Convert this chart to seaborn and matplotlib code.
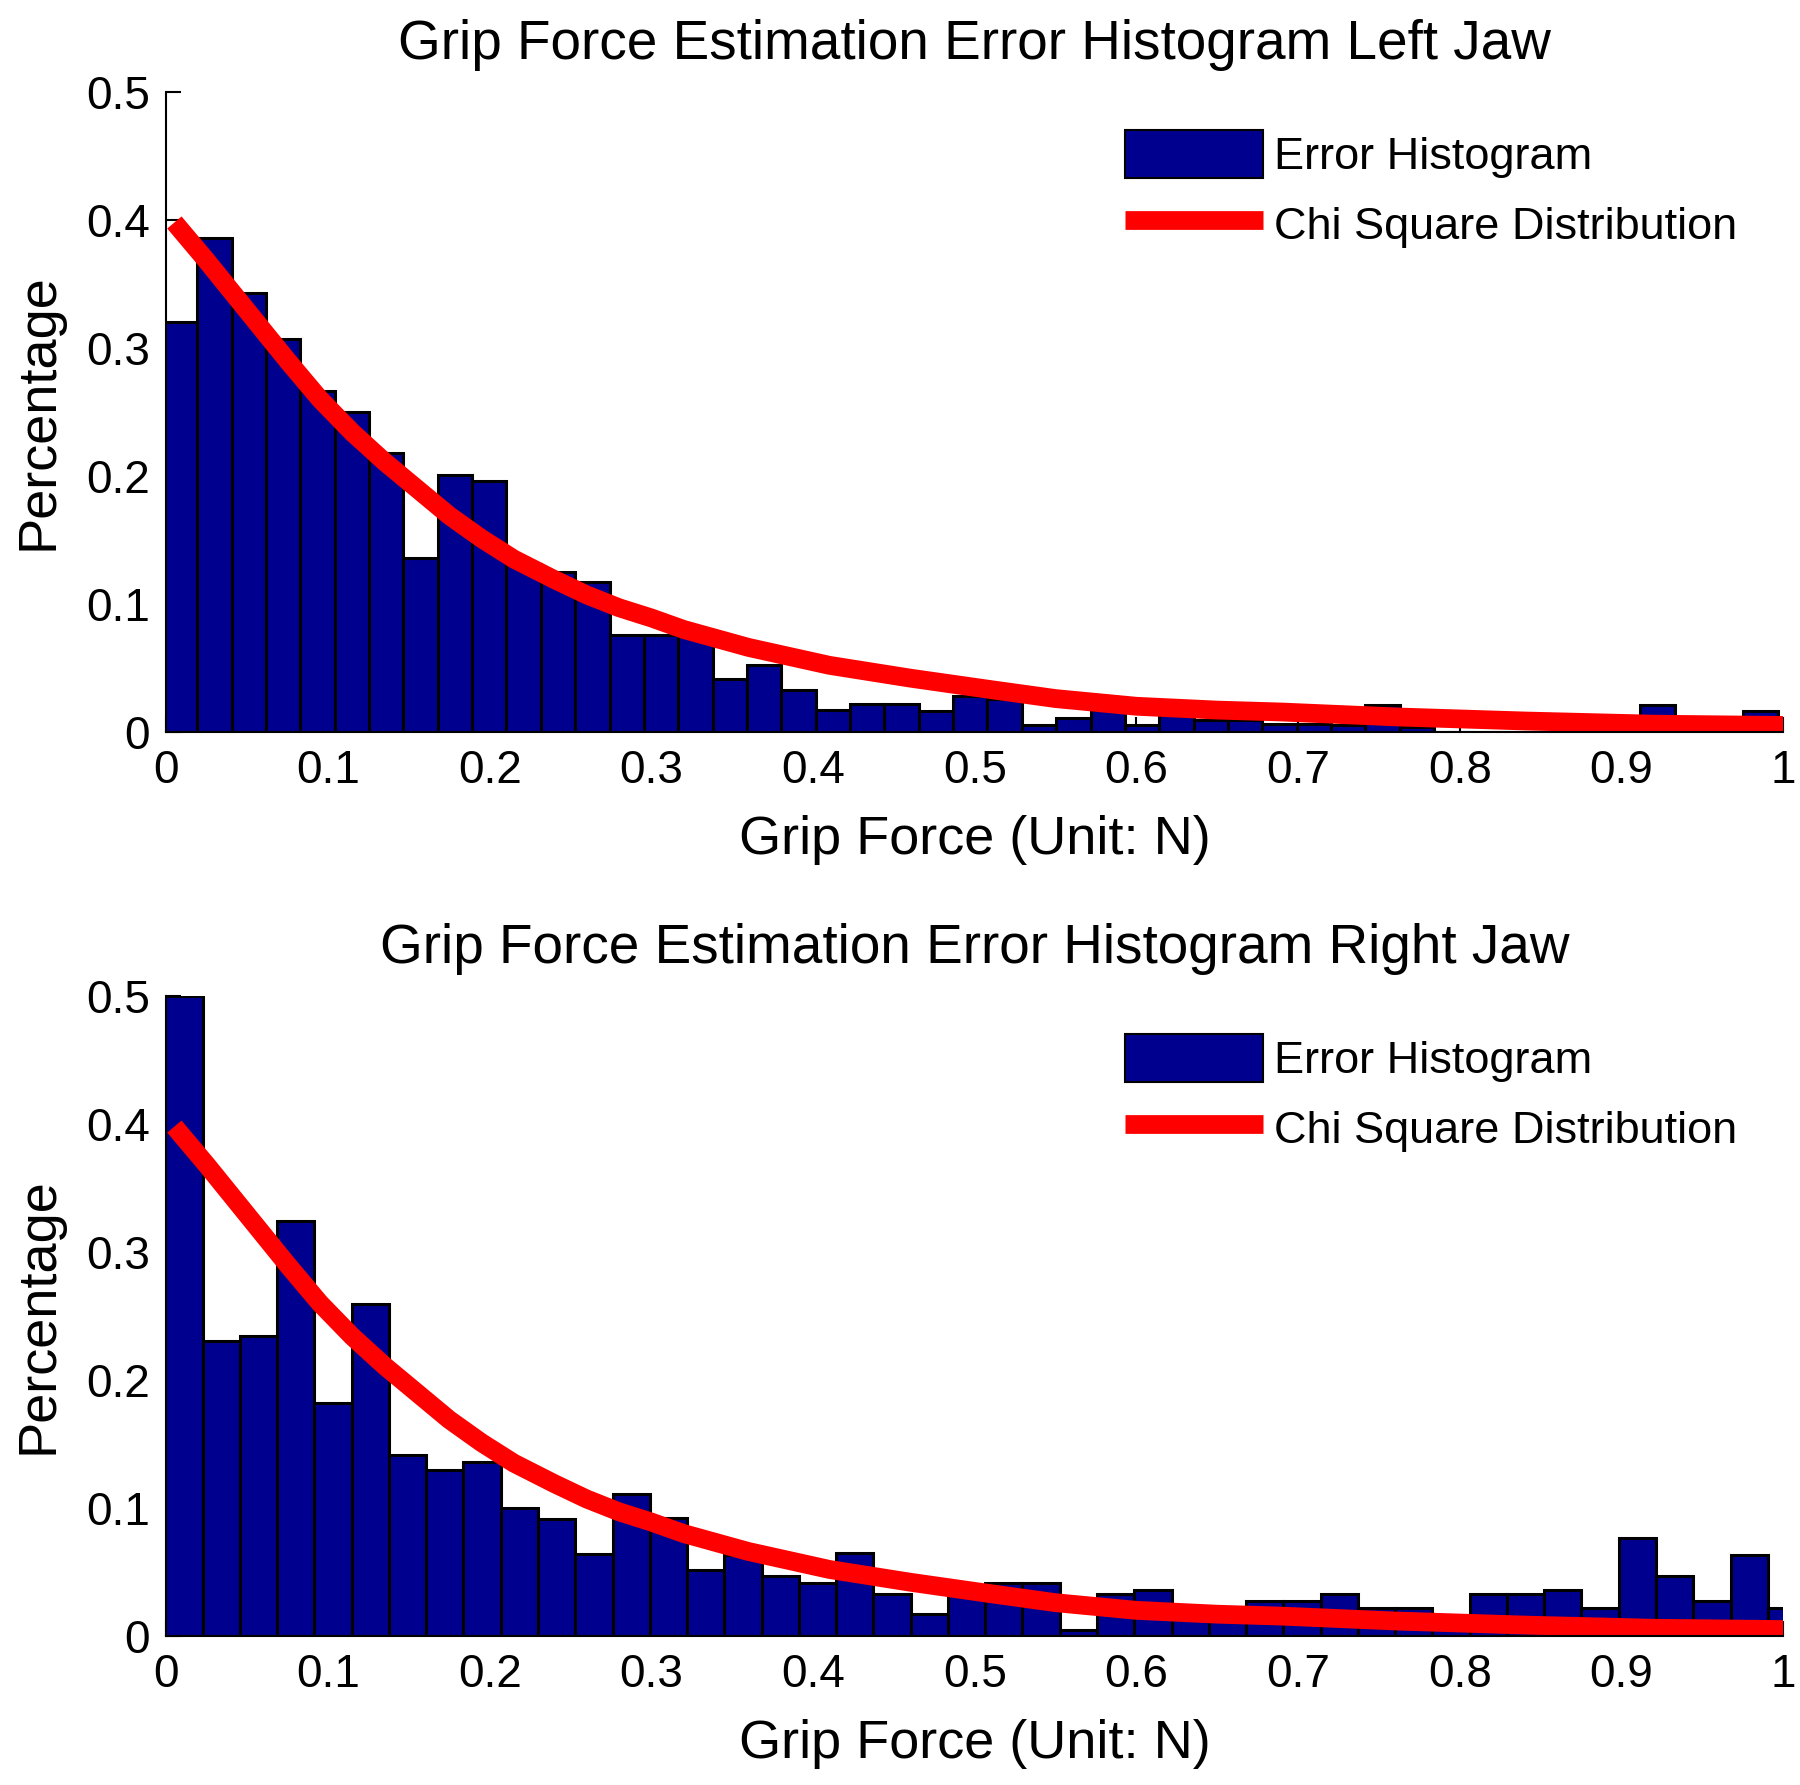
# Grip force estimation error histograms (left / right jaw)
import numpy as np
import pandas as pd
import matplotlib
matplotlib.use('Agg')
import matplotlib.pyplot as plt
from matplotlib.patches import Patch
from matplotlib.lines import Line2D
import seaborn as sns

NAVY = '#00008F'
RED = '#FF0000'

# ── Datos ────────────────────────────────────────────────────────────────────
# bins: start of the first bin and bin width (in N)
left_start, left_width = -0.0021, 0.02125
right_start, right_width = -0.0006, 0.02305

left_heights = [0.320, 0.386, 0.343, 0.307, 0.266, 0.250, 0.218, 0.136, 0.201, 0.196,
                0.131, 0.125, 0.117, 0.076, 0.076, 0.077, 0.041, 0.052, 0.033, 0.017,
                0.022, 0.022, 0.016, 0.028, 0.026, 0.005, 0.011, 0.017, 0.005, 0.013,
                0.009, 0.009, 0.006, 0.0065, 0.005, 0.021, 0.004, 0.0, 0.0, 0.0,
                0.0, 0.002, 0.002, 0.021, 0.002, 0.002, 0.016, 0.010]

right_heights = [0.500, 0.2305, 0.234, 0.324, 0.182, 0.259, 0.141, 0.130, 0.136, 0.100,
                 0.0915, 0.064, 0.111, 0.092, 0.0515, 0.063, 0.047, 0.041, 0.065, 0.033,
                 0.017, 0.034, 0.041, 0.041, 0.005, 0.0325, 0.0356, 0.022, 0.016, 0.027,
                 0.027, 0.033, 0.022, 0.022, 0.008, 0.033, 0.033, 0.0357, 0.022, 0.0768,
                 0.0468, 0.027, 0.063, 0.022]

chi_x = [0.005, 0.025, 0.05, 0.075, 0.095, 0.115, 0.135, 0.155, 0.175, 0.195,
         0.215, 0.24, 0.26, 0.28, 0.30, 0.32, 0.36, 0.41, 0.46, 0.51,
         0.55, 0.60, 0.65, 0.69, 0.76, 0.84, 0.92, 1.0]
chi_y = [0.398, 0.368, 0.329, 0.290, 0.260, 0.234, 0.211, 0.190, 0.169, 0.151,
         0.135, 0.119, 0.107, 0.097, 0.089, 0.080, 0.066, 0.052, 0.042, 0.033,
         0.026, 0.020, 0.017, 0.0155, 0.0117, 0.0085, 0.006, 0.005]

x_ticks = [0, 0.1, 0.2, 0.3, 0.4, 0.5, 0.6, 0.7, 0.8, 0.9, 1]
x_tick_labels = ['0', '0.1', '0.2', '0.3', '0.4', '0.5', '0.6', '0.7', '0.8', '0.9', '1']
y_ticks = [0, 0.1, 0.2, 0.3, 0.4, 0.5]
y_tick_labels = ['0', '0.1', '0.2', '0.3', '0.4', '0.5']

titles = ['Grip Force Estimation Error Histogram Left Jaw',
          'Grip Force Estimation Error Histogram Right Jaw']
xlabel = 'Grip Force (Unit: N)'
ylabel = 'Percentage'
legend_labels = ['Error Histogram', 'Chi Square Distribution']

# ── Estilo ───────────────────────────────────────────────────────────────────
sns.set_theme(style='white')
plt.rcParams.update({
    'font.family': ['Liberation Sans', 'DejaVu Sans'],
    'axes.spines.top': False,
    'axes.spines.right': False,
    'axes.edgecolor': 'black',
    'axes.linewidth': 1.5,
    'xtick.direction': 'in',
    'ytick.direction': 'in',
    'xtick.bottom': True,
    'ytick.left': True,
    'xtick.major.size': 11,
    'ytick.major.size': 11,
    'xtick.major.width': 1.5,
    'ytick.major.width': 1.5,
    'xtick.color': 'black',
    'ytick.color': 'black',
    'text.color': 'black',
    'axes.labelcolor': 'black',
})

LINE_W = 13.5
TITLE_FS = 39.5
LABEL_FS = 39
TICK_FS = 33
LEG_FS = 32.5


def draw(ax, heights, start, width, title):
    n = len(heights)
    df = pd.DataFrame({'x': start + width * (np.arange(n) + 0.5), 'w': heights})
    sns.histplot(data=df, x='x', weights='w', binwidth=width,
                 binrange=(start, start + width * n), color=NAVY,
                 edgecolor='black', linewidth=2.2, alpha=1, ax=ax)
    sns.lineplot(x=chi_x, y=chi_y, color=RED, linewidth=LINE_W, ax=ax,
                 solid_capstyle='butt')
    ax.set_xlim(0, 1)
    ax.set_ylim(0, 0.5)
    ax.set_xticks(x_ticks)
    ax.set_xticklabels(x_tick_labels, fontsize=TICK_FS)
    ax.set_yticks(y_ticks)
    ax.set_yticklabels(y_tick_labels, fontsize=TICK_FS)
    ax.tick_params(axis='x', pad=12)
    ax.tick_params(axis='y', pad=12)
    ax.set_title(title, fontsize=TITLE_FS, pad=24)
    ax.set_xlabel(xlabel, fontsize=LABEL_FS, labelpad=16)
    ax.set_ylabel(ylabel, fontsize=LABEL_FS, labelpad=16)
    handles = [Patch(facecolor=NAVY, edgecolor='black', linewidth=1.5),
               Line2D([], [], color=RED, linewidth=LINE_W, solid_capstyle='butt')]
    ax.legend(handles, legend_labels, loc='upper left', bbox_to_anchor=(0.593, 0.94),
              frameon=False, fontsize=LEG_FS, handlelength=3.05, handleheight=1.25,
              handletextpad=0.25, borderaxespad=0, borderpad=0, labelspacing=0.48)


fig = plt.figure(figsize=(18, 17.85), dpi=100, facecolor='white')
ax1 = fig.add_axes([0.0924, 0.590, 0.8982, 0.3585])
ax2 = fig.add_axes([0.0924, 0.0835, 0.8982, 0.3585])
draw(ax1, left_heights, left_start, left_width, titles[0])
draw(ax2, right_heights, right_start, right_width, titles[1])

fig.savefig('out.png', dpi=100, facecolor='white')
